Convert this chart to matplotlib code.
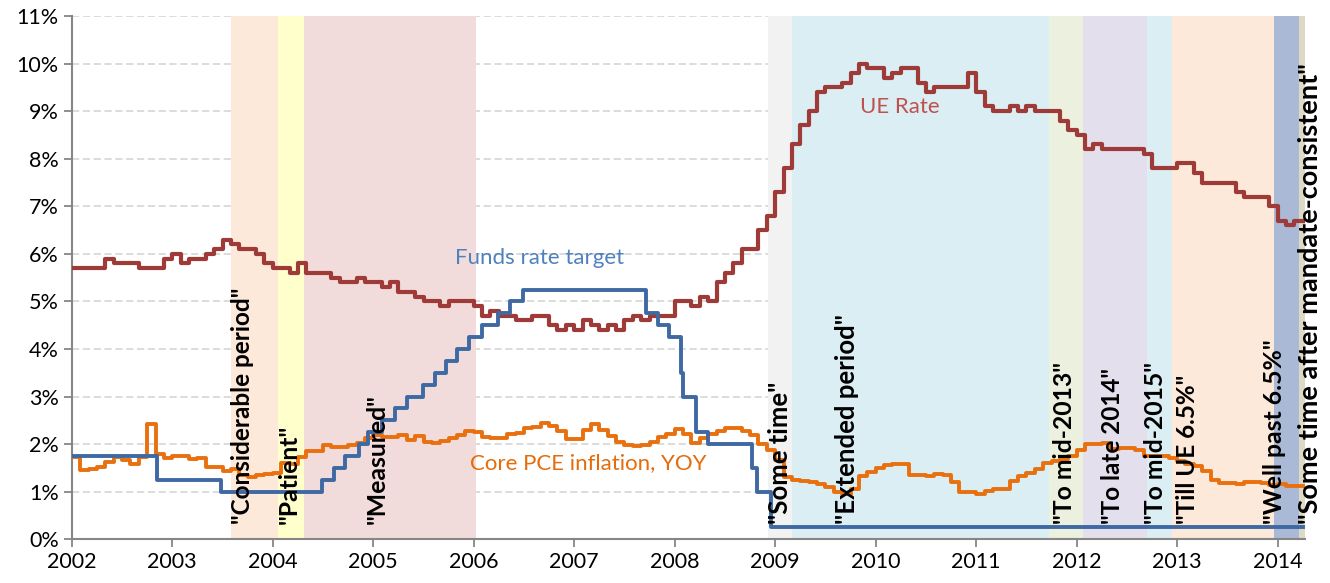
import numpy as np
import matplotlib
matplotlib.use("Agg")
import matplotlib.pyplot as plt

plt.rcParams['font.family'] = ['Lato', 'DejaVu Sans']

# Unemployment rate, monthly, Dec 2001 .. Feb 2014 (each shown the month after)
ue_rate = [5.7,
           5.7, 5.7, 5.7, 5.9, 5.8, 5.8, 5.8, 5.7, 5.7, 5.7, 5.9, 6.0,
           5.8, 5.9, 5.9, 6.0, 6.1, 6.3, 6.2, 6.1, 6.1, 6.0, 5.8, 5.7,
           5.7, 5.6, 5.8, 5.6, 5.6, 5.6, 5.5, 5.4, 5.4, 5.5, 5.4, 5.4,
           5.3, 5.4, 5.2, 5.2, 5.1, 5.0, 5.0, 4.9, 5.0, 5.0, 5.0, 4.9,
           4.7, 4.8, 4.7, 4.7, 4.6, 4.6, 4.7, 4.7, 4.5, 4.4, 4.5, 4.4,
           4.6, 4.5, 4.4, 4.5, 4.4, 4.6, 4.7, 4.6, 4.7, 4.7, 4.7, 5.0,
           5.0, 4.9, 5.1, 5.0, 5.4, 5.6, 5.8, 6.1, 6.1, 6.5, 6.8, 7.3,
           7.8, 8.3, 8.7, 9.0, 9.4, 9.5, 9.5, 9.6, 9.8, 10.0, 9.9, 9.9,
           9.7, 9.8, 9.9, 9.9, 9.6, 9.4, 9.5, 9.5, 9.5, 9.5, 9.8, 9.4,
           9.1, 9.0, 9.0, 9.1, 9.0, 9.1, 9.0, 9.0, 9.0, 8.8, 8.6, 8.5,
           8.2, 8.3, 8.2, 8.2, 8.2, 8.2, 8.2, 8.1, 7.8, 7.8, 7.8, 7.9,
           7.9, 7.7, 7.5, 7.5, 7.5, 7.5, 7.3, 7.2, 7.2, 7.2, 7.0, 6.7,
           6.6, 6.7]

# Core PCE inflation YoY, same months
core_pce = [1.73,
            1.45, 1.48, 1.52, 1.63, 1.72, 1.66, 1.59, 1.73, 2.42, 1.80, 1.70, 1.75,
            1.75, 1.68, 1.70, 1.51, 1.51, 1.43, 1.47, 1.35, 1.30, 1.35, 1.37, 1.40,
            1.61, 1.59, 1.73, 1.86, 1.86, 1.98, 1.95, 1.94, 1.99, 2.02, 2.12, 2.19,
            2.15, 2.15, 2.20, 2.09, 2.18, 2.04, 2.02, 2.06, 2.12, 2.19, 2.28, 2.26,
            2.16, 2.12, 2.12, 2.21, 2.23, 2.34, 2.36, 2.45, 2.39, 2.27, 2.10, 2.10,
            2.30, 2.43, 2.29, 2.17, 2.04, 1.98, 1.96, 1.98, 2.05, 2.16, 2.21, 2.31,
            2.21, 2.03, 2.12, 2.21, 2.28, 2.33, 2.33, 2.28, 2.20, 2.01, 1.87, 1.66,
            1.30, 1.24, 1.22, 1.20, 1.17, 1.10, 1.00, 0.96, 1.05, 1.33, 1.42, 1.50,
            1.56, 1.58, 1.58, 1.35, 1.35, 1.33, 1.38, 1.36, 1.21, 1.00, 0.99, 0.96,
            1.01, 1.06, 1.06, 1.23, 1.32, 1.40, 1.47, 1.60, 1.65, 1.68, 1.75, 1.88,
            2.00, 2.00, 2.03, 1.89, 1.92, 1.92, 1.88, 1.75, 1.75, 1.76, 1.70, 1.64,
            1.58, 1.53, 1.44, 1.24, 1.19, 1.18, 1.16, 1.20, 1.20, 1.19, 1.15, 1.17,
            1.11, 1.11]

# Fed funds target changes
fed_dates = [2002.0, 2002.85, 2003.48, 2004.49, 2004.61, 2004.72, 2004.86, 2004.95,
             2005.09, 2005.22, 2005.34, 2005.49, 2005.61, 2005.72, 2005.83, 2005.95,
             2006.08, 2006.24, 2006.36, 2006.49, 2007.71, 2007.83, 2007.94, 2008.06,
             2008.08, 2008.21, 2008.33, 2008.77, 2008.82, 2008.96]
fed_rate = [1.75, 1.25, 1.00, 1.25, 1.50, 1.75, 2.00, 2.25, 2.50, 2.75, 3.00, 3.25,
            3.50, 3.75, 4.00, 4.25, 4.50, 4.75, 5.00, 5.25, 4.75, 4.50, 4.25, 3.50,
            3.00, 2.25, 2.00, 1.50, 1.00, 0.25]
end_date = 2014.25

# forward guidance regimes
guidance = ['"Considerable period"', '"Patient"', '"Measured"', '"Some time"',
            '"Extended period"', '"To mid-2013"', '"To late 2014"', '"To mid-2015"',
            '"Till UE 6.5%"', '"Well past 6.5%"', '"Some time after mandate-consistent"']
regime_start = [2003.58, 2004.05, 2004.31, 2008.93, 2009.17, 2011.72, 2012.06,
                2012.70, 2012.95, 2013.96, 2014.21]
regime_end = [2004.05, 2004.31, 2006.02, 2009.17, 2011.72, 2012.06, 2012.70,
              2012.95, 2013.96, 2014.21, 2014.27]

# styling / layout
regime_colors = ['#FDE9D9', '#FFFFCC', '#F2DCDB', '#F2F2F2', '#DAEEF3', '#EBF1DE',
                 '#E4DFEC', '#DAEEF3', '#FDE9D9', '#A9B9D6', '#DDD9C4']
label_x = [2003.70, 2004.16, 2005.04, 2009.05, 2009.71, 2011.88, 2012.36,
           2012.78, 2013.10, 2013.97, 2014.32]
label_size = [17.5, 17.8, 17.8, 18.5, 18.5, 17.8, 17.5, 17.8, 17.5, 17.8, 19.5]

fig = plt.figure(figsize=(13.3, 5.83), dpi=100)
ax = fig.add_axes([0.054, 0.075, 0.927, 0.8975])

for s, e, c in zip(regime_start, regime_end, regime_colors):
    ax.axvspan(s, e, color=c, lw=0, zorder=1)

n = len(ue_rate)
edges = 2002 + np.arange(n + 1) / 12.0
ax.step(edges, ue_rate + [ue_rate[-1]], where='post', color='#9E3A37', lw=3.0, zorder=3)
ax.step(edges, core_pce + [core_pce[-1]], where='post', color='#E8700F', lw=2.8, zorder=3)
ax.step(fed_dates + [end_date], fed_rate + [fed_rate[-1]], where='post',
        color='#3F69A2', lw=2.8, zorder=3)

for lab, x, fs in zip(guidance, label_x, label_size):
    ax.text(x, 0.33, lab, rotation=90, ha='center', va='bottom', fontsize=fs,
            fontweight='bold', color='black', zorder=5)

ax.text(2005.81, 5.92, 'Funds rate target', color='#4F81BD', fontsize=16,
        va='center', zorder=5)
ax.text(2009.84, 9.09, 'UE Rate', color='#C0504D', fontsize=16, va='center', zorder=5)
ax.text(2005.96, 1.6, 'Core PCE inflation, YOY', color='#E46C0A', fontsize=16,
        va='center', zorder=5)

ax.set_xlim(2002, 2014.27)
ax.set_ylim(0, 11)
ax.set_xticks(range(2002, 2015))
ax.set_yticks(range(0, 12))
ax.set_yticklabels([f'{v}%' for v in range(0, 12)])
ax.tick_params(labelsize=15.5, colors='#868686', labelcolor='black', length=6, width=1.3)
ax.yaxis.grid(True, linestyle=(0, (4, 2)), color='#D9D9D9', lw=1.3)
ax.set_axisbelow(True)
for side in ['top', 'right']:
    ax.spines[side].set_visible(False)
for side in ['left', 'bottom']:
    ax.spines[side].set_color('#868686')
    ax.spines[side].set_linewidth(1.5)

plt.savefig('out.png', dpi=100)
